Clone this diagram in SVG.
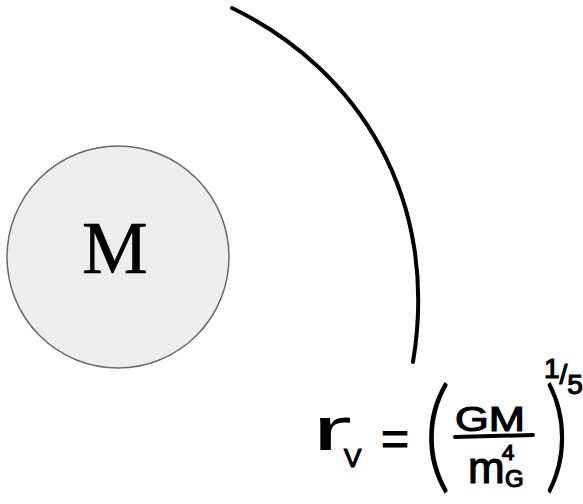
<svg xmlns="http://www.w3.org/2000/svg" width="583" height="504" viewBox="0 0 583 504">
<style>
.f{font-family:"Liberation Sans",Arial,sans-serif;fill:#000;stroke:#000;stroke-width:1.2}
.p{font-family:Lato,"Liberation Sans",Arial,sans-serif;font-weight:300;fill:#000;font-size:124px}
</style>
<rect width="583" height="504" fill="#fff"/>
<g id="mass">
<circle cx="118" cy="257" r="111" fill="#eeeeee" stroke="#6b6b6b" stroke-width="1.5"/>
<text x="115" y="273" text-anchor="middle" font-family="'Liberation Serif',serif" font-size="74" fill="#000" stroke="#000" stroke-width="0.6">M</text>
</g>
<g id="boundary">
<path d="M232,8 C360,70 440,200 413,362" fill="none" stroke="#000" stroke-width="4" stroke-linecap="round"/>
</g>
<g id="formula">
<text font-family="'Liberation Sans',Arial,sans-serif" font-size="62" x="312" y="450" textLength="40" lengthAdjust="spacingAndGlyphs" fill="#000">r</text>
<text class="f" x="344" y="467" font-size="26">V</text>
<text class="f" x="381" y="455" font-size="48">=</text>
<text class="p" transform="translate(423,477) scale(0.9,1)">(</text>
<text class="f" x="455" y="431" font-size="35" textLength="70" lengthAdjust="spacingAndGlyphs">GM</text>
<line x1="455" y1="437" x2="533" y2="435" stroke="#000" stroke-width="4" stroke-linecap="round"/>
<text class="f" x="468" y="483" font-size="44">m</text>
<text class="f" x="505" y="487" font-size="24">G</text>
<text class="f" x="502" y="460" font-size="22">4</text>
<text class="p" transform="translate(544,477) scale(0.8,1)">)</text>
<text class="f" x="544" y="378" font-size="28">1<tspan dy="6">/</tspan><tspan dy="10">5</tspan></text>
</g>
</svg>
